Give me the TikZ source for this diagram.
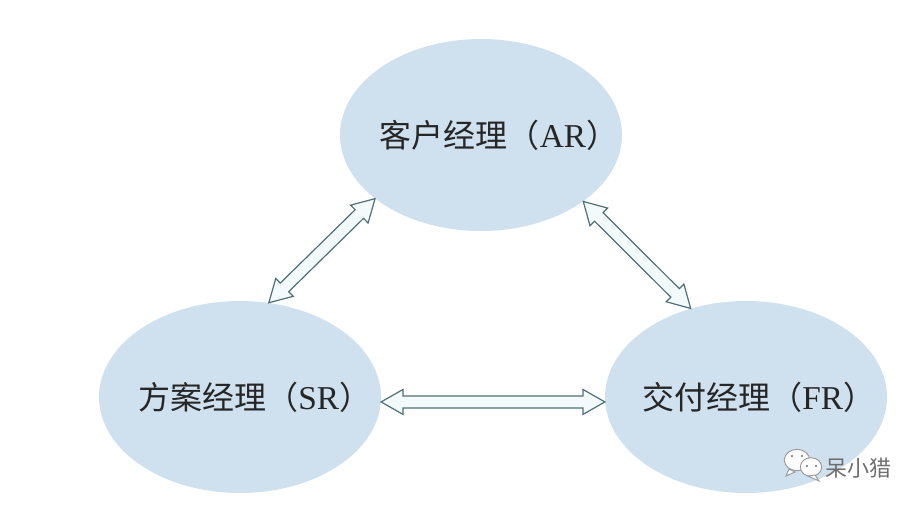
\documentclass[tikz,border=0pt]{standalone}
\usepackage{fontspec}
\setmainfont{Liberation Serif}
\newfontfamily\cjk{Noto Sans CJK SC}
\usetikzlibrary{calc,shapes.geometric}
\definecolor{ellfill}{HTML}{CFE0EE}
\definecolor{arrline}{HTML}{4F6F76}
\definecolor{arrfill}{HTML}{F3FAFB}
\definecolor{markgrey}{HTML}{6E6E6E}
\tikzset{
  role/.style={ellipse,fill=ellfill,minimum width=211.5pt,minimum height=144pt,inner sep=0pt,font=\fontsize{24pt}{26pt}\selectfont,text=black!85},
  biarrow/.style={draw=arrline,fill=arrfill,line width=0.9pt,line join=miter},
  bubble/.style={ellipse,draw=markgrey!70,fill=white,line width=0.7pt,inner sep=0pt},
  markdot/.style={circle,fill=markgrey,inner sep=0pt,minimum size=1.6pt},
  marktext/.style={font=\cjk\fontsize{16.5pt}{18pt}\selectfont,text=markgrey,inner sep=0pt}
}
\newcommand{\rolelabel}[3]{\makebox[0pt][c]{\hspace*{#1}{\cjk #2（}{\fontsize{25pt}{26pt}\selectfont #3}{\cjk ）}}}
\newcommand{\biarrowpath}[2]{%
  \draw[biarrow] (#1)
    -- ($(#1)!19pt!29.6:(#2)$)
    -- ($(#1)!17.1pt!15.3:(#2)$)
    -- ($(#2)!17.1pt!-15.3:(#1)$)
    -- ($(#2)!19pt!-29.6:(#1)$)
    -- (#2)
    -- ($(#2)!19pt!29.6:(#1)$)
    -- ($(#2)!17.1pt!15.3:(#1)$)
    -- ($(#1)!17.1pt!-15.3:(#2)$)
    -- ($(#1)!19pt!-29.6:(#2)$)
    -- cycle;}
\begin{document}
\begin{tikzpicture}[x=0.75pt,y=-0.75pt]
\useasboundingbox (0,0) rectangle (922,508);
\node[role] (ar) at (481,135) {\rolelabel{27pt}{客户经理}{AR}};
\node[role] (sr) at (240,397) {\rolelabel{22pt}{方案经理}{SR}};
\node[role] (fr) at (746,397) {\rolelabel{19pt}{交付经理}{FR}};
\biarrowpath{ar.211}{sr.73.8}
\biarrowpath{ar.-33.8}{fr.122.8}
\biarrowpath{sr.-2.4}{fr.182.4}
\node[bubble,minimum width=19pt,minimum height=16pt] (bubbleA) at (797,460) {};
\fill[white,draw=markgrey!70,line width=0.7pt] (789,469) -- (786,476) -- (795,472) -- cycle;
\node[markdot] (dotA) at (792,456) {};
\node[markdot] (dotB) at (802,456) {};
\node[bubble,minimum width=16pt,minimum height=14pt] (bubbleB) at (811,467) {};
\fill[white,draw=markgrey!70,line width=0.7pt] (815,475) -- (819,481) -- (808,476) -- cycle;
\node[markdot] (dotC) at (807,466) {};
\node[markdot] (dotD) at (816,466) {};
\node[marktext,anchor=west] (mark) at (825,468) {呆小猎};
\end{tikzpicture}
\end{document}
